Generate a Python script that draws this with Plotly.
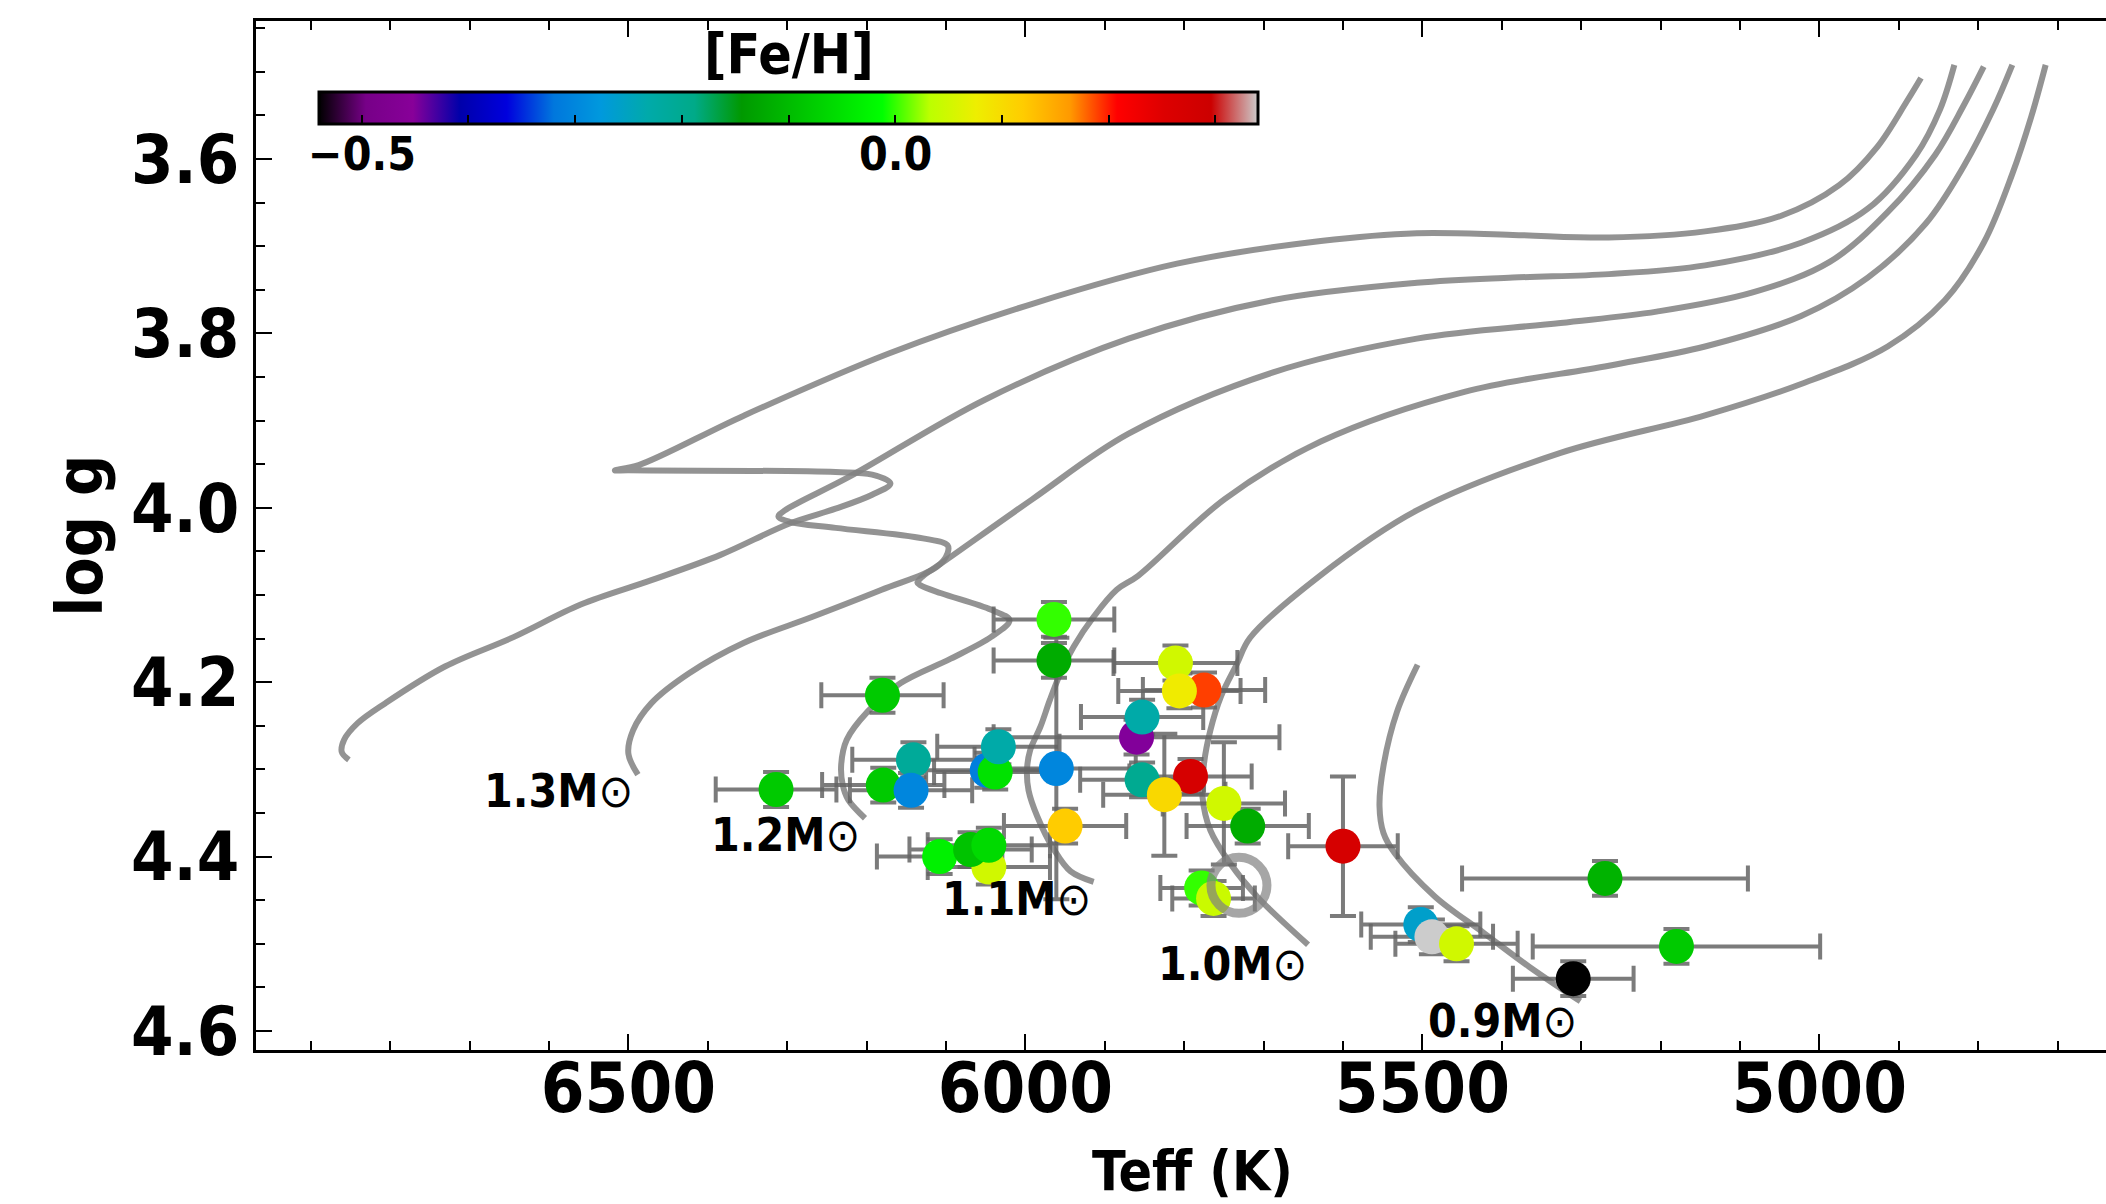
import plotly.graph_objects as go

# ---------------- stars ----------------
teff = [6314, 6180, 6179, 6141, 6144, 6048, 6038, 6034, 6046, 6108, 6069, 6046,
        5964, 5964, 5961, 5950, 5860, 5853, 5853, 5811, 5775, 5806, 5792, 5825,
        5750, 5720, 5778, 5763, 5600, 5270, 5502, 5488, 5457, 5180, 5310]
logg = [4.323, 4.215, 4.318, 4.289, 4.324, 4.301, 4.303, 4.274, 4.412, 4.400, 4.392, 4.387,
        4.128, 4.175, 4.299, 4.365, 4.263, 4.240, 4.312, 4.178, 4.209, 4.210, 4.308, 4.329,
        4.339, 4.365, 4.436, 4.448, 4.388, 4.425, 4.478, 4.492, 4.500, 4.503, 4.540]
teff_err = [76, 77, 77, 77, 77, 77, 77, 77, 77, 79, 77, 77,
            76, 76, 100, 77, 180, 77, 78, 78, 77, 77, 77, 77,
            77, 77, 52, 52, 69, 180, 75, 77, 77, 181, 76]
logg_err = [0.02, 0.02, 0.02, 0.02, 0.02, 0.02, 0.02, 0.02, 0.02, 0.02, 0.02, 0.02,
            0.02, 0.02, 0.15, 0.02, 0.02, 0.02, 0.02, 0.02, 0.02, 0.02, 0.02, 0.07,
            0.07, 0.02, 0.02, 0.02, 0.08, 0.02, 0.02, 0.02, 0.02, 0.02, 0.02]
feh = [-0.08, -0.08, -0.08, -0.21, -0.30, -0.31, -0.05, -0.23, 0.05, -0.03, -0.09, -0.06,
       0.00, -0.12, -0.30, 0.12, -0.45, -0.23, -0.20, 0.05, 0.19, 0.08, 0.27, 0.105,
       0.05, -0.12, 0.00, 0.045, 0.27, -0.11, -0.26, 0.34, 0.05, -0.08, -0.54]

sun_teff = [5731]
sun_logg = [4.433]

# ---------------- evolutionary tracks ----------------
track_14_teff = [6852, 6861, 6858, 6841, 6806, 6731, 6644, 6560, 6471, 6384, 6297, 6239, 6193, 6170,
                 6193, 6239, 6500, 6517, 6487, 6354, 6172, 5991, 5809, 5628, 5507, 5386, 5265, 5144,
                 5048, 4975, 4927, 4890, 4872]
track_14_logg = [4.289, 4.280, 4.266, 4.247, 4.224, 4.182, 4.148, 4.111, 4.083, 4.054, 4.018, 4.001, 3.985, 3.972,
                 3.962, 3.959, 3.957, 3.957, 3.951, 3.894, 3.823, 3.766, 3.720, 3.694, 3.685, 3.687, 3.690, 3.683,
                 3.665, 3.630, 3.586, 3.534, 3.507]

track_13_teff = [6488, 6500, 6494, 6471, 6424, 6355, 6268, 6181, 6112, 6098, 6098, 6129, 6239, 6297, 6311,
                 6303, 6221, 6051, 5870, 5689, 5507, 5386, 5265, 5144, 5023, 4939, 4878, 4848, 4830]
track_13_logg = [4.306, 4.282, 4.255, 4.224, 4.190, 4.155, 4.125, 4.094, 4.068, 4.052, 4.043, 4.035, 4.023, 4.016, 4.010,
                 4.003, 3.964, 3.876, 3.806, 3.762, 3.742, 3.736, 3.732, 3.722, 3.696, 3.657, 3.595, 3.543, 3.492]

track_12_teff = [6202, 6223, 6230, 6232, 6225, 6199, 6157, 6094, 6043, 6020, 6043, 6106, 6132, 6136, 6130,
                 6100, 5991, 5870, 5689, 5507, 5326, 5205, 5084, 4987, 4914, 4854, 4818, 4793]
track_12_logg = [4.356, 4.335, 4.318, 4.295, 4.266, 4.234, 4.201, 4.173, 4.148, 4.129, 4.117, 4.098, 4.089, 4.086, 4.079,
                 4.060, 3.990, 3.915, 3.845, 3.806, 3.788, 3.775, 3.753, 3.718, 3.661, 3.595, 3.538, 3.494]

track_11_teff = [5914, 5943, 5964, 5985, 5996, 5998, 5994, 5981, 5969, 5956, 5939, 5914, 5885, 5858,
                 5749, 5628, 5447, 5265, 5144, 5023, 4939, 4866, 4818, 4781, 4757]
track_11_logg = [4.429, 4.417, 4.392, 4.354, 4.324, 4.301, 4.278, 4.251, 4.220, 4.190, 4.159, 4.125, 4.094, 4.078,
                 3.990, 3.924, 3.867, 3.837, 3.815, 3.780, 3.736, 3.674, 3.608, 3.543, 3.492]

track_10_teff = [5644, 5708, 5742, 5767, 5777, 5775, 5767, 5754, 5733, 5717, 5632, 5507, 5326, 5144,
                 5023, 4914, 4842, 4793, 4757, 4733, 4715]
track_10_logg = [4.501, 4.446, 4.408, 4.370, 4.331, 4.293, 4.255, 4.217, 4.178, 4.149, 4.080, 4.003, 3.937, 3.894,
                 3.858, 3.815, 3.762, 3.696, 3.617, 3.551, 3.492]

track_09_teff = [5301, 5366, 5422, 5484, 5535, 5549, 5554, 5549, 5532, 5506]
track_09_logg = [4.566, 4.526, 4.488, 4.446, 4.396, 4.373, 4.342, 4.296, 4.234, 4.180]

# mass labels (text) and their anchor positions
mass_labels = ["1.3", "1.2", "1.1", "1.0", "0.9"]
mass_label_teff = [6684, 6398, 6108, 5836, 5496]
mass_label_logg = [4.325, 4.375, 4.449, 4.523, 4.588]

x_ticks = [6500, 6000, 5500, 5000]
y_ticks = [3.6, 3.8, 4.0, 4.2, 4.4, 4.6]
cb_ticks = [-0.5, -0.4, -0.3, -0.2, -0.1, 0.0, 0.1, 0.2, 0.3]
cb_label_vals = [-0.5, 0.0]
cb_label_text = ["\u22120.5", "0.0"]

# nipy_spectral colormap
_ns = [(0.00, (0.0, 0.0, 0.0)), (0.05, (0.4667, 0.0, 0.5333)), (0.10, (0.5333, 0.0, 0.6)),
       (0.15, (0.0, 0.0, 0.6667)), (0.20, (0.0, 0.0, 0.8667)), (0.25, (0.0, 0.4667, 0.8667)),
       (0.30, (0.0, 0.6, 0.8667)), (0.35, (0.0, 0.6667, 0.6667)), (0.40, (0.0, 0.6667, 0.5333)),
       (0.45, (0.0, 0.6, 0.0)), (0.50, (0.0, 0.7333, 0.0)), (0.55, (0.0, 0.8667, 0.0)),
       (0.60, (0.0, 1.0, 0.0)), (0.65, (0.7333, 1.0, 0.0)), (0.70, (0.9333, 0.9333, 0.0)),
       (0.75, (1.0, 0.8, 0.0)), (0.80, (1.0, 0.6, 0.0)), (0.85, (1.0, 0.0, 0.0)),
       (0.90, (0.8667, 0.0, 0.0)), (0.95, (0.8, 0.0, 0.0)), (1.00, (0.8, 0.8, 0.8))]
nipy_spectral = [[p, "rgb(%d,%d,%d)" % tuple(round(255 * c) for c in rgb)] for p, rgb in _ns]

FONT = "DejaVu Sans Condensed, DejaVu Sans"
W, H = 2106, 1204
L, R, T, B = 256, 0, 21, 154
X_RANGE = [6969, 4639]
Y_RANGE = [4.6218, 3.4417]
PW, PH = W - L - R, H - T - B

# colorbar geometry (pixels in the figure)
CB_X0, CB_X1, CB_TOP, CB_BOT = 319, 1258, 90, 122
cmin, cmax = min(feh), max(feh)

fig = go.Figure()

track_line = dict(color="rgba(128,128,128,0.85)", width=6, shape="spline", smoothing=1.0)
for tx, ty in [(track_14_teff, track_14_logg), (track_13_teff, track_13_logg),
               (track_12_teff, track_12_logg), (track_11_teff, track_11_logg),
               (track_10_teff, track_10_logg), (track_09_teff, track_09_logg)]:
    fig.add_trace(go.Scatter(x=tx, y=ty, mode="lines", line=track_line,
                             hoverinfo="skip", showlegend=False))

fig.add_trace(go.Scatter(
    x=teff, y=logg, mode="markers", showlegend=False,
    error_x=dict(type="data", array=teff_err, color="rgba(100,100,100,0.85)", thickness=4, width=13),
    error_y=dict(type="data", array=logg_err, color="rgba(100,100,100,0.85)", thickness=4, width=13),
    marker=dict(size=35, color=feh, colorscale=nipy_spectral, cmin=cmin, cmax=cmax,
                line=dict(width=0), showscale=True,
                colorbar=dict(orientation="h", x=((CB_X0 + CB_X1) / 2 - L) / PW, xanchor="center",
                              y=0.887, yanchor="bottom",
                              len=CB_X1 - CB_X0, lenmode="pixels",
                              thickness=CB_BOT - CB_TOP, thicknessmode="pixels",
                              outlinewidth=3, outlinecolor="black", borderwidth=0,
                              xpad=0, ypad=0,
                              tickmode="array", tickvals=cb_ticks, ticktext=[""] * len(cb_ticks),
                              ticks="inside", ticklen=10, tickwidth=2, tickcolor="black",
                              tickfont=dict(family=FONT, size=10, color="black"))),
))

fig.add_trace(go.Scatter(x=sun_teff, y=sun_logg, mode="markers", showlegend=False, hoverinfo="skip",
                         marker=dict(symbol="circle-open", size=56,
                                     line=dict(color="rgba(128,128,128,0.7)", width=9),
                                     color="rgba(128,128,128,0.7)")))

for lab, tx, ty in zip(mass_labels, mass_label_teff, mass_label_logg):
    fig.add_annotation(x=tx, y=ty, xref="x", yref="y", xanchor="left", yanchor="middle",
                       text="<b>" + lab + "M</b>\u2299", showarrow=False,
                       font=dict(family=FONT, size=46, color="black"))

# colorbar title and tick labels
cb_px_per_unit = (CB_X1 - CB_X0) / (cmax - cmin)
for v, t in zip(cb_label_vals, cb_label_text):
    px = CB_X0 + (v - cmin) * cb_px_per_unit
    fig.add_annotation(x=(px - L) / PW, y=(H - B - 154) / PH, xref="paper", yref="paper",
                       xanchor="center", yanchor="middle", text="<b>" + t + "</b>", showarrow=False,
                       font=dict(family=FONT, size=46, color="black"))
fig.add_annotation(x=((CB_X0 + CB_X1) / 2 - L) / PW, y=(H - B - 54) / PH, xref="paper", yref="paper",
                   xanchor="center", yanchor="middle", text="<b>[Fe/H]</b>", showarrow=False,
                   font=dict(family=FONT, size=55, color="black"))

fig.add_annotation(x=(1192 - L) / PW, y=-0.118, xref="paper", yref="paper",
                   xanchor="center", yanchor="middle", text="<b>Teff (K)</b>", showarrow=False,
                   font=dict(family=FONT, size=55, color="black"))
fig.add_annotation(x=(79 - L) / PW, y=0.5, xref="paper", yref="paper",
                   xanchor="center", yanchor="middle", text="<b>log g</b>", textangle=-90,
                   showarrow=False, font=dict(family=FONT, size=64, color="black"))

fig.update_layout(
    width=W, height=H, margin=dict(l=L, r=R, t=T, b=B, autoexpand=False),
    paper_bgcolor="white", plot_bgcolor="white",
    xaxis=dict(range=X_RANGE, autorange=False, showgrid=False, zeroline=False,
               showline=True, linewidth=3, linecolor="black", mirror="ticks",
               ticks="inside", ticklen=16, tickwidth=2, tickcolor="black",
               tickmode="array", tickvals=x_ticks, ticktext=[str(v) for v in x_ticks],
               tickfont=dict(family=FONT, size=70, color="black", weight="bold"),
               ticklabelstandoff=-25,
               minor=dict(dtick=100, tick0=5000, ticks="inside", ticklen=9, tickwidth=2, tickcolor="black"),
               automargin=False),
    yaxis=dict(range=Y_RANGE, autorange=False, showgrid=False, zeroline=False,
               showline=True, linewidth=3, linecolor="black", mirror=False,
               ticks="inside", ticklen=16, tickwidth=2, tickcolor="black",
               tickmode="array", tickvals=y_ticks, ticktext=["%.1f" % v for v in y_ticks],
               tickfont=dict(family=FONT, size=68, color="black", weight="bold"),
               minor=dict(dtick=0.05, tick0=3.6, ticks="inside", ticklen=9, tickwidth=2, tickcolor="black"),
               automargin=False),
)

fig.write_html("out.html")
